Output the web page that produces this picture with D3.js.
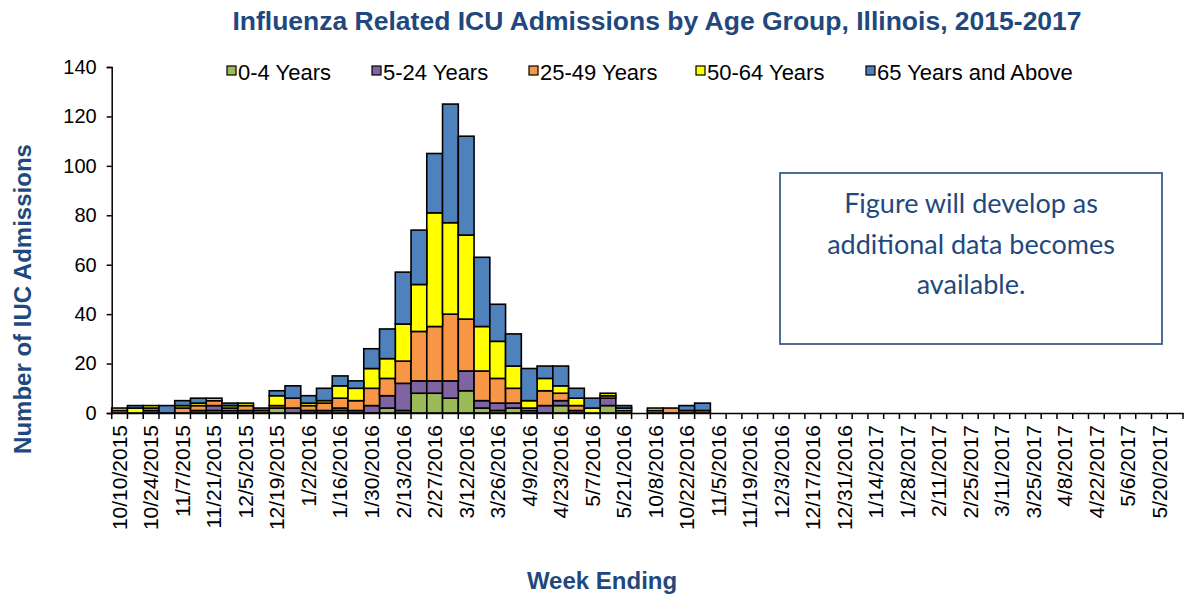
<!DOCTYPE html>
<html>
<head>
<meta charset="utf-8">
<script src="https://cdn.jsdelivr.net/npm/d3@7/dist/d3.min.js"></script>
<style>
    body { margin: 0; background: #fff; }
    text { font-family: "Liberation Sans", Arial, sans-serif; }
</style>
</head>
<body>
<div id="chart"></div>
<script>
var weeks = [
    "10/10/2015","10/17/2015","10/24/2015","10/31/2015","11/7/2015","11/14/2015","11/21/2015","11/28/2015",
    "12/5/2015","12/12/2015","12/19/2015","12/26/2015","1/2/2016","1/9/2016","1/16/2016","1/23/2016",
    "1/30/2016","2/6/2016","2/13/2016","2/20/2016","2/27/2016","3/5/2016","3/12/2016","3/19/2016",
    "3/26/2016","4/2/2016","4/9/2016","4/16/2016","4/23/2016","4/30/2016","5/7/2016","5/14/2016",
    "5/21/2016","5/28/2016",
    "10/8/2016","10/15/2016","10/22/2016","10/29/2016","11/5/2016","11/12/2016","11/19/2016","11/26/2016",
    "12/3/2016","12/10/2016","12/17/2016","12/24/2016","12/31/2016","1/7/2017","1/14/2017","1/21/2017",
    "1/28/2017","2/4/2017","2/11/2017","2/18/2017","2/25/2017","3/4/2017","3/11/2017","3/18/2017",
    "3/25/2017","4/1/2017","4/8/2017","4/15/2017","4/22/2017","4/29/2017","5/6/2017","5/13/2017",
    "5/20/2017","5/27/2017"
];

// weekly counts per age group (weeks not listed = 0)
var age0to4 = [0,0,0,0,0,0,1,0,0,0,2,0,0,0,1,0,0,2,1,8,8,6,9,2,1,2,0,0,3,0,0,3,0,0,
               0,0,0,0];
var age5to24 = [0,0,1,0,0,1,2,1,1,0,0,2,1,1,1,1,3,5,11,5,5,7,8,3,3,2,1,3,2,1,0,3,0,0,
                0,0,0,0];
var age25to49 = [1,0,1,0,2,2,2,1,2,1,1,4,2,3,4,4,7,7,9,20,22,27,21,12,10,6,1,6,3,2,0,1,1,0,
                 1,2,1,1];
var age50to64 = [1,2,1,0,1,1,1,1,1,0,4,0,1,1,5,5,8,8,15,19,46,37,34,18,15,9,3,5,3,3,2,1,1,0,
                 1,0,0,0];
var age65plus = [0,1,0,3,2,2,0,1,0,1,2,5,3,5,4,3,8,12,21,22,24,48,40,28,15,13,13,5,8,4,4,0,1,0,
                 0,0,2,3];

var seriesNames = ["0-4 Years", "5-24 Years", "25-49 Years", "50-64 Years", "65 Years and Above"];
var seriesColors = ["#9BBB59", "#8064A2", "#F79646", "#FFFF00", "#4F81BD"];
var yTicks = [0, 20, 40, 60, 80, 100, 120, 140];

var W = 1184, H = 594;
var plotLeft = 111.7, plotRight = 1183, plotTop = 67, plotBottom = 413;
var navy = "#1F497D";

var table = weeks.map(function(w, i) {
    return {
        week: w,
        "0-4 Years": age0to4[i] || 0,
        "5-24 Years": age5to24[i] || 0,
        "25-49 Years": age25to49[i] || 0,
        "50-64 Years": age50to64[i] || 0,
        "65 Years and Above": age65plus[i] || 0
    };
});

var svg = d3.select("#chart").append("svg")
    .attr("width", W)
    .attr("height", H);

var x = d3.scaleBand().domain(weeks).range([plotLeft, plotRight]).padding(0);
var y = d3.scaleLinear().domain([0, 140]).range([plotBottom, plotTop]);
var color = d3.scaleOrdinal().domain(seriesNames).range(seriesColors);

var stacked = d3.stack().keys(seriesNames)(table);

// bars
svg.append("g").selectAll("g")
    .data(stacked)
    .enter().append("g")
    .attr("fill", function(d) { return color(d.key); })
    .selectAll("rect")
    .data(function(d) { return d.filter(function(p) { return p[1] - p[0] > 0; }); })
    .enter().append("rect")
    .attr("x", function(d) { return x(d.data.week); })
    .attr("y", function(d) { return y(d[1]); })
    .attr("width", x.bandwidth())
    .attr("height", function(d) { return y(d[0]) - y(d[1]); })
    .attr("stroke", "#000")
    .attr("stroke-width", 1.6);

// y axis
var yAxis = svg.append("g")
    .attr("transform", "translate(" + plotLeft + ",0)")
    .call(d3.axisLeft(y).tickValues(yTicks).tickSize(5).tickPadding(10));
yAxis.select(".domain").attr("stroke", "#000").attr("stroke-width", 1.5);
yAxis.selectAll(".tick line").attr("stroke", "#000").attr("stroke-width", 1.5);
yAxis.selectAll("text").attr("font-size", "20px").attr("fill", "#000")
    .style("font-family", "'Liberation Sans', Arial, sans-serif");

// x axis
var xAxis = svg.append("g")
    .attr("transform", "translate(0," + plotBottom + ")")
    .call(d3.axisBottom(x)
        .tickValues(weeks.filter(function(d, i) { return i % 2 === 0; }))
        .tickSize(0).tickPadding(0));
xAxis.select(".domain").attr("stroke", "#000").attr("stroke-width", 1.5);
xAxis.selectAll("text")
    .attr("font-size", "21px")
    .attr("fill", "#000")
    .attr("text-anchor", "end")
    .attr("dy", "0.35em")
    .attr("transform", "translate(0,12) rotate(-90)")
    .attr("y", 0)
    .attr("x", 0)
    .style("font-family", "'Liberation Sans', Arial, sans-serif");

// boundary ticks between weeks
var bounds = weeks.map(function(w) { return x(w); }).concat([plotRight]);
svg.append("g").selectAll("line")
    .data(bounds)
    .enter().append("line")
    .attr("x1", function(d) { return d; })
    .attr("x2", function(d) { return d; })
    .attr("y1", plotBottom)
    .attr("y2", plotBottom + 6)
    .attr("stroke", "#000")
    .attr("stroke-width", 1.5);

// title
svg.append("text")
    .attr("x", 657).attr("y", 30)
    .attr("text-anchor", "middle")
    .attr("font-size", "26.5px")
    .attr("font-weight", "bold")
    .attr("fill", navy)
    .text("Influenza Related ICU Admissions by Age Group, Illinois, 2015-2017");

// axis titles
svg.append("text")
    .attr("transform", "translate(31,299) rotate(-90)")
    .attr("text-anchor", "middle")
    .attr("font-size", "24px")
    .attr("font-weight", "bold")
    .attr("fill", navy)
    .text("Number of IUC Admissions");

svg.append("text")
    .attr("x", 602).attr("y", 589)
    .attr("text-anchor", "middle")
    .attr("font-size", "24px")
    .attr("font-weight", "bold")
    .attr("fill", navy)
    .text("Week Ending");

// legend
var legendX = [227, 372, 529, 696, 866];
var legend = svg.append("g").selectAll("g")
    .data(seriesNames)
    .enter().append("g")
    .attr("transform", function(d, i) { return "translate(" + legendX[i] + ",72)"; });
legend.append("rect")
    .attr("x", 0).attr("y", -6)
    .attr("width", 9).attr("height", 9)
    .attr("fill", function(d) { return color(d); })
    .attr("stroke", "#000")
    .attr("stroke-width", 1.2);
legend.append("text")
    .attr("x", 11).attr("y", 7.5)
    .attr("font-size", "22px")
    .attr("fill", "#000")
    .text(function(d) { return d; });

// note box
svg.append("rect")
    .attr("x", 780).attr("y", 173)
    .attr("width", 382).attr("height", 171)
    .attr("fill", "#fff")
    .attr("stroke", "#3A5F8F")
    .attr("stroke-width", 1.8);
var noteLines = ["Figure will develop as", "additional data becomes", "available."];
svg.append("g").selectAll("text")
    .data(noteLines)
    .enter().append("text")
    .attr("x", 971)
    .attr("y", function(d, i) { return 213 + i * 40.5; })
    .attr("text-anchor", "middle")
    .attr("font-size", "27px")
    .attr("fill", navy)
    .style("font-family", "Lato, 'Open Sans', sans-serif")
    .text(function(d) { return d; });
</script>
</body>
</html>
